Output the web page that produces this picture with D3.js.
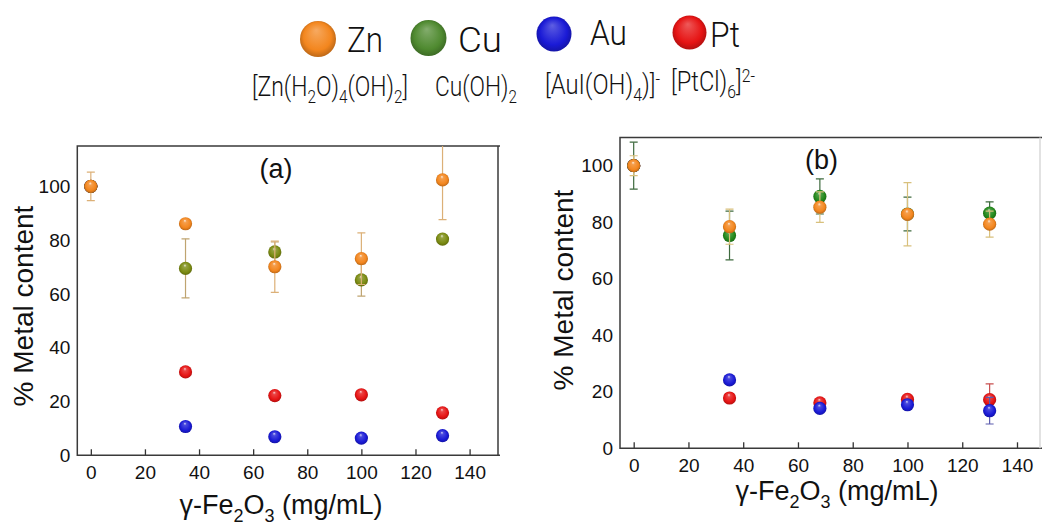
<!DOCTYPE html>
<html><head><meta charset="utf-8">
<script src="https://cdn.jsdelivr.net/npm/d3@7"></script>
<style>body{margin:0;background:#fff}svg{display:block}</style>
</head><body>
<svg id="chart" width="1043" height="526"></svg>
<script>
// ---------- data ----------
const xValues = [0, 35, 68, 100, 130];          // γ-Fe2O3 (mg/mL)
const xTickValues = [0, 20, 40, 60, 80, 100, 120, 140];
const yTickValues = [0, 20, 40, 60, 80, 100];

// panel (a)
const znA    = [100, 86.1, 70.1, 73.1, 102.4];
const znAErr = [5.3, 0, 9.5, 9.6, 14.8];
const cuA    = [100, 69.5, 75.6, 65.2, 80.4];
const cuAErr = [0, 11.0, 3.7, 6.0, 0];
const ptA    = [100, 31.0, 22.2, 22.5, 15.8];
const ptAErr = [0, 0, 0, 0, 0];
const auA    = [100, 10.7, 6.9, 6.4, 7.3];
const auAErr = [0, 0, 0, 0, 0];

// panel (b)
const znB    = [100, 78.4, 85.3, 82.8, 79.3];
const znBErr = [3.5, 6.2, 5.4, 11.2, 4.6];
const cuB    = [100, 75.3, 89.1, 82.9, 83.2];
const cuBErr = [8.3, 8.6, 6.2, 6.0, 4.0];
const ptB    = [100, 17.8, 16.1, 17.3, 17.2];
const ptBErr = [0, 0, 0, 0, 5.6];
const auB    = [100, 24.2, 14.1, 15.4, 13.3];
const auBErr = [0, 0, 0, 0, 4.7];

const legendMetals = ["Zn", "Cu", "Au", "Pt"];

// ---------- styles ----------
const COL = {Zn:"#f3861e", CuA:"#7b8b12", CuB:"#23891b", Au:"#1a1ad6", Pt:"#e61414", CuLeg:"#4f8a30"};
const svg = d3.select("#chart");
const defs = svg.append("defs");
const FONT = "'Liberation Sans', Arial, Helvetica, sans-serif";
const LFONT = "Roboto, 'Liberation Sans', sans-serif";

function addGrad(id, color, hl) {
  const g = defs.append("radialGradient").attr("id", id)
    .attr("cx", "50%").attr("cy", "50%").attr("r", "55%").attr("fx", "45%").attr("fy", "25%");
  const mix = d3.interpolateRgb(color, "#ffffff");
  g.append("stop").attr("offset", "0%").attr("stop-color", mix(hl));
  g.append("stop").attr("offset", "22%").attr("stop-color", mix(0.2));
  g.append("stop").attr("offset", "70%").attr("stop-color", color);
  g.append("stop").attr("offset", "100%").attr("stop-color", d3.color(color).darker(0.9));
}
addGrad("gZn", COL.Zn, 0.85); addGrad("gCuA", COL.CuA, 0.85); addGrad("gCuB", COL.CuB, 0.85);
addGrad("gAu", COL.Au, 0.8); addGrad("gPt", COL.Pt, 0.8);
addGrad("lZn", COL.Zn, 0.3); addGrad("lCu", COL.CuLeg, 0.3); addGrad("lAu", COL.Au, 0.3); addGrad("lPt", COL.Pt, 0.3);

// rich text helper: parts [[text, mode]] mode 0 normal, 1 sub, -1 sup
function richText(g, parts, size, subSize, subShift, supShift) {
  const t = g.append("text").attr("font-family", LFONT).attr("font-weight", 300)
    .attr("font-size", size).attr("fill", "#111");
  let cur = 0;
  parts.forEach(([txt, mode]) => {
    const target = mode === 1 ? subShift : mode === -1 ? -supShift : 0;
    t.append("tspan").attr("dy", target - cur).attr("font-size", mode ? subSize : size).text(txt);
    cur = target;
  });
  return t;
}
function fit(t, x, y, width) {
  const w = t.node().getBBox().width;
  t.attr("transform", `translate(${x},${y}) scale(${width / w},1)`);
}

// ---------- legend ----------
const legSpheres = [
  {m:"Zn", cx:318, cy:39, r:18, grad:"lZn", tx:347, ty:52, tw:36},
  {m:"Cu", cx:428.5, cy:38, r:18, grad:"lCu", tx:458, ty:52, tw:44},
  {m:"Au", cx:554, cy:34, r:17.5, grad:"lAu", tx:590, ty:45, tw:37},
  {m:"Pt", cx:689.5, cy:32.5, r:17, grad:"lPt", tx:710, ty:47, tw:30}
];
const leg = svg.append("g");
legSpheres.forEach((d, i) => {
  leg.append("circle").attr("cx", d.cx).attr("cy", d.cy).attr("r", d.r).attr("fill", `url(#${d.grad})`);
  const t = richText(leg, [[legendMetals[i], 0]], 35, 20, 0, 0);
  fit(t, d.tx, d.ty, d.tw);
});
const species = [
  {parts:[["[Zn(H",0],["2",1],["O)",0],["4",1],["(OH)",0],["2",1],["]",0]], x:252, y:96, w:156},
  {parts:[["Cu(OH)",0],["2",1]], x:435, y:96, w:82},
  {parts:[["[AuI(OH)",0],["4",1],[")]",0],["-",-1]], x:545, y:94, w:115},
  {parts:[["[PtCl)",0],["6",1],["]",0],["2-",-1]], x:671, y:91, w:84}
];
species.forEach(s => {
  const t = richText(leg, s.parts, 27, 18, 7, 9);
  fit(t, s.x, s.y, s.w);
});

// ---------- panels ----------
const panels = [
  {key:"a", left:77.3, right:498, top:146, bottom:455.3, yMax:115, xMax:150.5, rightStroke:"#3a3a3a",
   label:"(a)", labelX:276, labelY:178, ytX:33, ytY:306, xtX:281, xtY:514,
   series:[
     {v:ptA, e:ptAErr, grad:"gPt", ec:"#d47070"},
     {v:auA, e:auAErr, grad:"gAu", ec:"#7070c0"},
     {v:cuA, e:cuAErr, grad:"gCuA", ec:"#bfa470"},
     {v:znA, e:znAErr, grad:"gZn", ec:"#dcb077"}
   ]},
  {key:"b", left:620, right:1040, top:137.4, bottom:448.3, yMax:110, xMax:148.4, rightStroke:"#d8d8d8",
   label:"(b)", labelX:821.5, labelY:169, ytX:573, ytY:290, xtX:837, xtY:500,
   series:[
     {v:ptB, e:ptBErr, grad:"gPt", ec:"#c85050"},
     {v:auB, e:auBErr, grad:"gAu", ec:"#5c5cae"},
     {v:cuB, e:cuBErr, grad:"gCuB", ec:"#3e6a3e"},
     {v:znB, e:znBErr, grad:"gZn", ec:"#d8c07c"}
   ]}
];

panels.forEach(p => {
  const x = d3.scaleLinear().domain([-5, p.xMax]).range([p.left, p.right]);
  const y = d3.scaleLinear().domain([0, p.yMax]).range([p.bottom, p.top]);
  const g = svg.append("g");
  const clipId = "clip" + p.key;
  defs.append("clipPath").attr("id", clipId).append("rect")
    .attr("x", p.left).attr("y", p.top).attr("width", p.right - p.left).attr("height", p.bottom - p.top);

  // x axis (inward ticks)
  const xa = g.append("g").attr("transform", `translate(0,${p.bottom})`)
    .call(d3.axisBottom(x).tickValues(xTickValues).tickSizeInner(-6).tickSizeOuter(0).tickPadding(10));
  xa.select(".domain").remove();
  xa.selectAll(".tick line").attr("stroke", "#333").attr("stroke-width", 1.3);
  xa.selectAll("text").attr("font-family", FONT).attr("font-size", 19).attr("fill", "#111");

  // y axis
  const ya = g.append("g").attr("transform", `translate(${p.left},0)`)
    .call(d3.axisLeft(y).tickValues(yTickValues).tickSize(0).tickPadding(7));
  ya.select(".domain").remove();
  ya.selectAll("text").attr("font-family", FONT).attr("font-size", 19).attr("fill", "#111");

  // frame
  const fr = g.append("g").attr("stroke-width", 1.5).attr("fill", "none");
  fr.append("path").attr("stroke", "#3a3a3a")
    .attr("d", `M${p.right + 2},${p.top}H${p.left}V${p.bottom}H${p.right + 2}`);
  fr.append("line").attr("stroke", p.rightStroke)
    .attr("x1", p.right).attr("x2", p.right).attr("y1", p.top).attr("y2", p.bottom);

  // data
  const dg = g.append("g").attr("clip-path", `url(#${clipId})`);
  p.series.forEach(s => {
    const pts = xValues.map((xv, i) => ({x: xv, y: s.v[i], e: s.e[i]})).filter(d => d.y != null);
    const eb = dg.append("g").attr("stroke", s.ec).attr("stroke-width", 1.2).attr("fill", "none");
    pts.filter(d => d.e > 0).forEach(d => {
      const cx = x(d.x), y1 = y(d.y + d.e), y2 = y(d.y - d.e);
      eb.append("line").attr("x1", cx).attr("x2", cx).attr("y1", y1).attr("y2", y2);
      eb.append("line").attr("x1", cx - 4).attr("x2", cx + 4).attr("y1", y1).attr("y2", y1);
      eb.append("line").attr("x1", cx - 4).attr("x2", cx + 4).attr("y1", y2).attr("y2", y2);
    });
    dg.append("g").selectAll("circle").data(pts).join("circle")
      .attr("cx", d => x(d.x)).attr("cy", d => y(d.y)).attr("r", 6.6)
      .attr("fill", `url(#${s.grad})`);
  });

  // panel label
  g.append("text").attr("x", p.labelX).attr("y", p.labelY).attr("text-anchor", "middle")
    .attr("font-family", FONT).attr("font-size", 27).attr("fill", "#111").text(p.label);

  // y title
  g.append("text").attr("transform", `translate(${p.ytX},${p.ytY}) rotate(-90)`).attr("text-anchor", "middle")
    .attr("font-family", FONT).attr("font-size", 28).attr("fill", "#111").text("% Metal content");

  // x title
  const xt = g.append("text").attr("x", p.xtX).attr("y", p.xtY).attr("text-anchor", "middle")
    .attr("font-family", FONT).attr("font-size", 27).attr("fill", "#111");
  [["γ-Fe",0],["2",8],["O",-8],["3",8],[" (mg/mL)",-8]].forEach(([t, dy]) => {
    xt.append("tspan").attr("dy", dy).attr("font-size", dy > 0 ? 18 : 27).text(t);
  });
});
</script>
</body></html>
